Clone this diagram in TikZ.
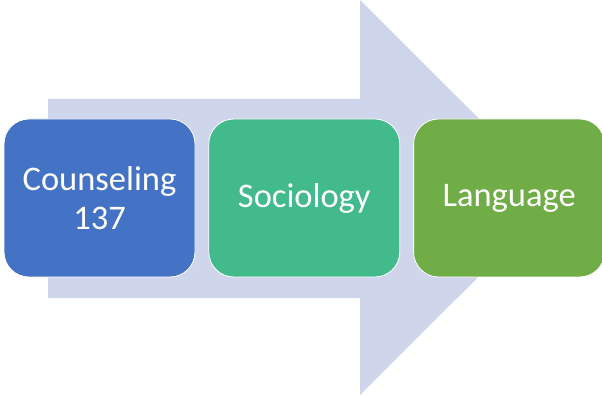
\documentclass[tikz,border=0pt]{standalone}
\usepackage{fontspec}
\setmainfont{Carlito}
\usetikzlibrary{positioning}
\definecolor{arrowfill}{HTML}{CFD5EA}
\definecolor{stepblue}{HTML}{4472C4}
\definecolor{stepteal}{HTML}{43BA8B}
\definecolor{stepgreen}{HTML}{70AD47}
\tikzset{
    %Define style for the step boxes
    stepbox/.style={
           rectangle,
           rounded corners=25pt,
           draw=white, line width=0.8pt,
           minimum width=191pt,
           minimum height=158pt,
           font=\fontsize{34.5}{39}\selectfont,
           text=white,
           align=center},
    % Define style for the big arrow
    bigarrow/.style={
           fill=arrowfill,
           draw=none}
}
\begin{document}
\begin{tikzpicture}[x=1pt,y=-1pt,node distance=13pt]
\useasboundingbox (0,0) rectangle (602,395);
 %arrow
\fill[bigarrow] (48,99) -- (360,99) -- (360,0) -- (558,197.5)
    -- (360,395) -- (360,298) -- (48,298) -- cycle;
 %nodes
\node[stepbox, fill=stepblue](counseling) at (99.5,198){Counseling\\137};
\node[stepbox, fill=stepteal, right = of counseling](sociology){Sociology};
\node[stepbox, fill=stepgreen, right = of sociology](language){Language};
\end{tikzpicture}
\end{document}
